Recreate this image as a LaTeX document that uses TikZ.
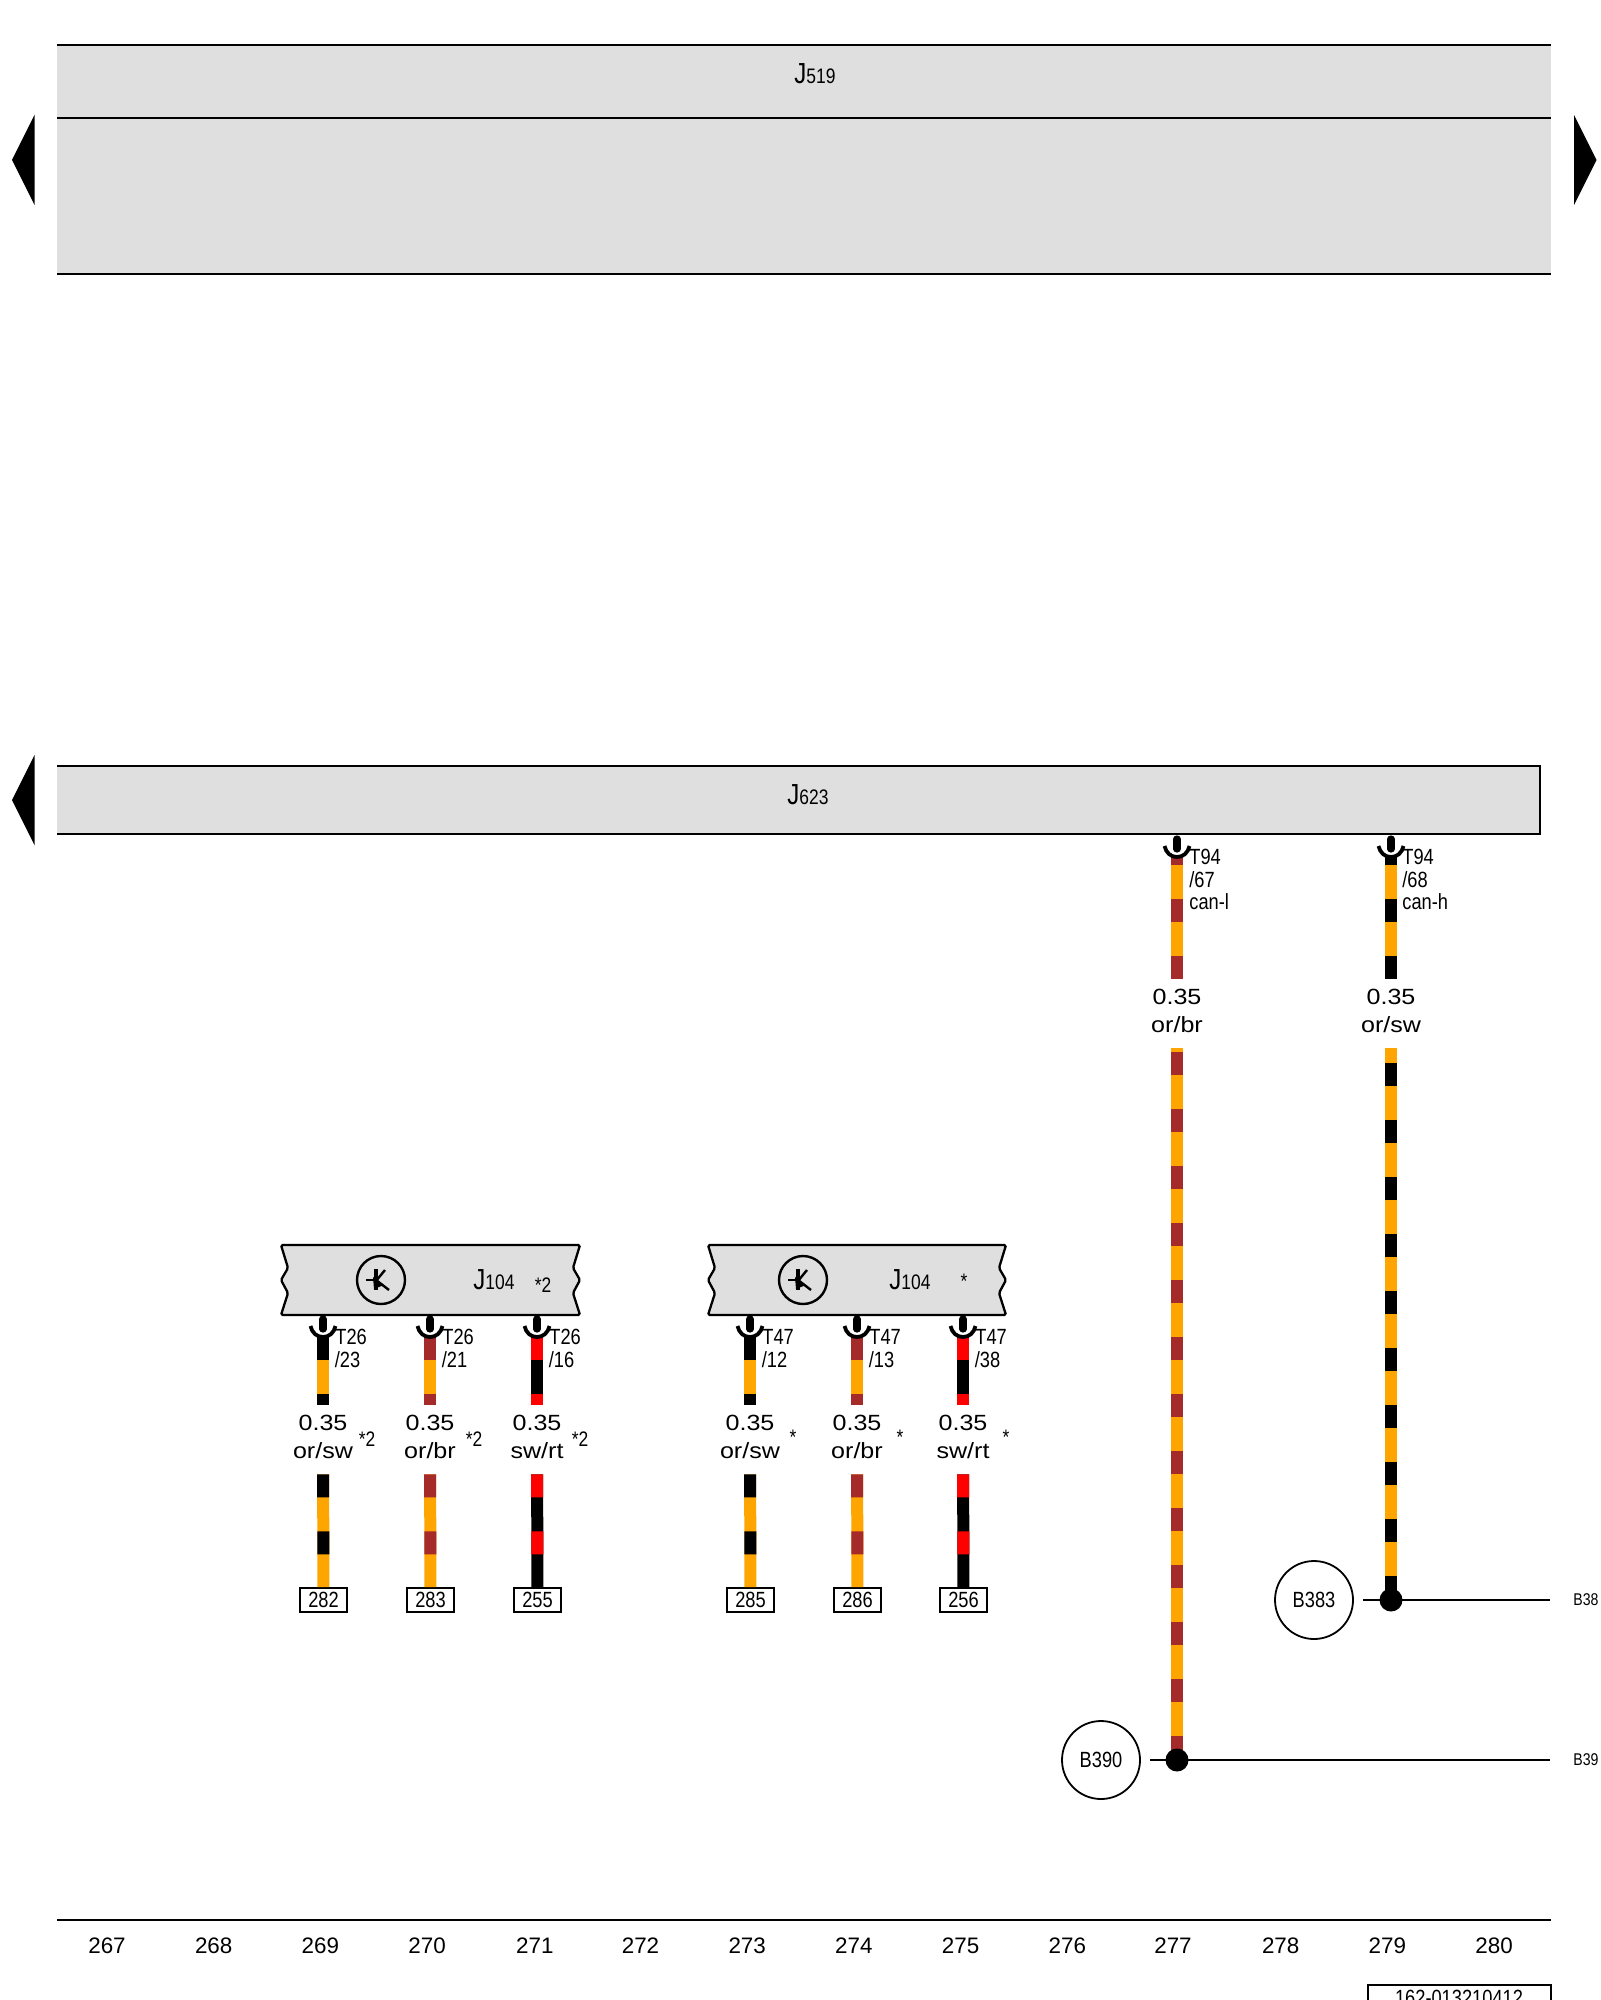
\documentclass[tikz,border=0pt]{standalone}
\usepackage{fontspec}
\usepackage{tikz}
\setmainfont{Liberation Sans}
\newfontfamily\narrowfont[FakeStretch=0.83]{Liberation Sans}
\newfontfamily\widefont[FakeStretch=1.14]{Liberation Sans}
\definecolor{boxgray}{RGB}{223,223,223}
\definecolor{wireor}{RGB}{255,165,0}
\definecolor{wirebr}{RGB}{165,42,42}
\definecolor{wirert}{RGB}{255,0,0}
\newcommand{\jname}[1]{{\fontsize{14.5}{14}\selectfont J}#1}
\tikzset{
  pinlabel/.style={anchor=west, inner sep=0pt, font=\narrowfont\fontsize{11}{12}\selectfont},
  starlabel/.style={inner sep=0pt, font=\narrowfont\fontsize{10.5}{12}\selectfont},
  columnlabel/.style={inner sep=0pt, font=\fontsize{11.2}{13}\selectfont},
  wirelabel/.style={inner sep=0pt, minimum width=12pt, minimum height=34.5pt, align=center,
    text height=26.5pt, text depth=8pt, font=\widefont\fontsize{11}{14}\selectfont},
  endbox/.style={draw, line width=0.9pt, fill=white, inner sep=0pt, minimum width=23.5pt,
    minimum height=12pt, font=\narrowfont\fontsize{11}{12}\selectfont},
  ringnode/.style={draw, circle, line width=0.9pt, inner sep=0pt, minimum size=39pt,
    font=\narrowfont\fontsize{11}{12}\selectfont},
  joindot/.style={circle, fill=black, inner sep=0pt, minimum size=11.5pt},
  busline/.style={line width=1.15pt},
  wire/.style n args={3}{line width=6pt, draw=#1,
    postaction={draw=#2, dash pattern=on 11.5pt off 17pt, dash phase=#3}},
  orsw/.style={wire={wireor}{black}{#1}}, orsw/.default=0pt,
  orbr/.style={wire={wireor}{wirebr}{#1}}, orbr/.default=0pt,
  swrt/.style={wire={black}{wirert}{#1}}, swrt/.default=0pt,
  pinmark/.pic={
    \draw[line width=3.6pt, line cap=round] (0,-18) -- (0,-8);
    \draw[line width=1.9pt] (-12.5,-11) .. controls (-11,-4) and (-6,0) .. (0,0)
      .. controls (6,0) and (11,-4) .. (12.5,-11);
  },
  fetmark/.pic={
    \draw[line width=1.2pt] (0,0) circle (24);
    \draw[line width=1.3pt] (-15,0) -- (-3,0);
    \draw[line width=2pt] (-5.5,-11) -- (-5.5,10);
    \draw[line width=1.2pt] (-5,1) -- (4,-10);
    \draw[line width=1.2pt] (-5,0) -- (8,10);
    \fill (-8,-3) -- (3,5) -- (-7,9) -- cycle;
  }
}
\begin{document}
\begin{tikzpicture}[x=0.5pt,y=-0.5pt]
\useasboundingbox (0,0) rectangle (1600,2000);
\clip (0,0) rectangle (1600,2000);
\fill[white] (0,0) rectangle (1600,2000);
\fill[boxgray] (57,45) rectangle (1551,274);
\draw[busline] (57,45) -- (1551,45);
\draw[busline] (57,118) -- (1551,118);
\draw[busline] (57,274) -- (1551,274);
\fill (34.5,115) -- (12,160) -- (34.5,205) -- cycle;
\fill (1574,115) -- (1596.5,160) -- (1574,205) -- cycle;
\node[starlabel] (j519) at (815,74) {\jname{519}};
\fill[boxgray] (57,766) rectangle (1540,834);
\draw[busline] (57,766) -- (1540,766) -- (1540,834) -- (57,834);
\fill (34.5,755) -- (12,800) -- (34.5,845) -- cycle;
\node[starlabel] (j623) at (808,795) {\jname{623}};
\filldraw[fill=boxgray, busline, rounded corners=0.8pt] (281,1245) -- (580,1245) -- (573,1268) -- (580,1280) -- (573,1293) -- (580,1315)
  -- (281,1315) -- (288,1293) -- (281,1280) -- (288,1268) -- cycle;
\filldraw[fill=boxgray, busline, rounded corners=0.8pt] (708,1245) -- (1006,1245) -- (999,1268) -- (1006,1280) -- (999,1293) -- (1006,1315)
  -- (708,1315) -- (715,1293) -- (708,1280) -- (715,1268) -- cycle;
\pic at (381,1280) {fetmark};
\pic at (803,1280) {fetmark};
\node[starlabel] (j104a) at (494,1280) {\jname{104}};
\node[starlabel] (j104b) at (910,1280) {\jname{104}};
\node[starlabel] (j104astar) at (543,1285) {*2};
\node[starlabel] (j104bstar) at (964,1281.5) {*};
\coordinate (p1) at (323,1337);
\coordinate (p2) at (430,1337);
\coordinate (p3) at (537,1337);
\coordinate (p4) at (750,1337);
\coordinate (p5) at (857,1337);
\coordinate (p6) at (963,1337);
\coordinate (p7) at (1177,857);
\coordinate (p8) at (1391,857);
\node[wirelabel] (w1) at (323,1439.5) {0.35\\or/sw};
\node[wirelabel] (w2) at (430,1439.5) {0.35\\or/br};
\node[wirelabel] (w3) at (537,1439.5) {0.35\\sw/rt};
\node[wirelabel] (w4) at (750,1439.5) {0.35\\or/sw};
\node[wirelabel] (w5) at (857,1439.5) {0.35\\or/br};
\node[wirelabel] (w6) at (963,1439.5) {0.35\\sw/rt};
\node[wirelabel] (w7) at (1177,1013.5) {0.35\\or/br};
\node[wirelabel] (w8) at (1391,1013.5) {0.35\\or/sw};
\node[endbox] (e282) at (323.5,1600) {282};
\node[endbox] (e283) at (430.5,1600) {283};
\node[endbox] (e255) at (537.5,1600) {255};
\node[endbox] (e285) at (750.5,1600) {285};
\node[endbox] (e286) at (857.5,1600) {286};
\node[endbox] (e256) at (963.5,1600) {256};
\coordinate (c390) at (1177,1760);
\coordinate (c383) at (1391,1600);
\node[ringnode] (b390) at (1101,1760) {B390};
\node[ringnode] (b383) at (1314,1600) {B383};
\coordinate (r390) at (1550,1760);
\coordinate (r383) at (1550,1600);
\draw[orsw] (p1) -- (w1);
\draw[orbr] (p2) -- (w2);
\draw[swrt] (p3) -- (w3);
\draw[orsw] (p4) -- (w4);
\draw[orbr] (p5) -- (w5);
\draw[swrt] (p6) -- (w6);
\draw[orsw] (w1) -- (e282);
\draw[orbr] (w2) -- (e283);
\draw[swrt] (w3) -- (e255);
\draw[orsw] (w4) -- (e285);
\draw[orbr] (w5) -- (e286);
\draw[swrt] (w6) -- (e256);
\draw[orbr=7.5pt] (p7) -- (w7);
\draw[orsw=7.5pt] (p8) -- (w8);
\draw[orbr=26.5pt] (w7) -- (c390);
\draw[orsw=21pt] (w8) -- (c383);
\draw[busline, shorten <=4.5pt] (b390) -- (r390);
\draw[busline, shorten <=4.5pt] (b383) -- (r383);
\node[joindot] (d390) at (c390) {};
\node[joindot] (d383) at (c383) {};
\pic at (p1) {pinmark};
\pic at (p2) {pinmark};
\pic at (p3) {pinmark};
\pic at (p4) {pinmark};
\pic at (p5) {pinmark};
\pic at (p6) {pinmark};
\pic at (p7) {pinmark};
\pic at (p8) {pinmark};
\node[pinlabel] (t1) at (335,1337) {T26};
\node[pinlabel] (t1b) at (334.5,1360) {/23};
\node[pinlabel] (t2) at (442,1337) {T26};
\node[pinlabel] (t2b) at (441.5,1360) {/21};
\node[pinlabel] (t3) at (549,1337) {T26};
\node[pinlabel] (t3b) at (548.5,1360) {/16};
\node[pinlabel] (t4) at (762,1337) {T47};
\node[pinlabel] (t4b) at (761.5,1360) {/12};
\node[pinlabel] (t5) at (869,1337) {T47};
\node[pinlabel] (t5b) at (868.5,1360) {/13};
\node[pinlabel] (t6) at (975,1337) {T47};
\node[pinlabel] (t6b) at (974.5,1360) {/38};
\node[pinlabel] (t7) at (1189,857) {T94};
\node[pinlabel] (t7b) at (1189,880) {/67};
\node[pinlabel] (t7c) at (1189,902) {can-l};
\node[pinlabel] (t8) at (1402,857) {T94};
\node[pinlabel] (t8b) at (1402,880) {/68};
\node[pinlabel] (t8c) at (1402,902) {can-h};
\node[starlabel] (s1) at (367,1439) {*2};
\node[starlabel] (s2) at (474,1439) {*2};
\node[starlabel] (s3) at (580,1439) {*2};
\node[starlabel] (s4) at (793,1437.5) {*};
\node[starlabel] (s5) at (900,1437.5) {*};
\node[starlabel] (s6) at (1006,1437.5) {*};
\node[pinlabel, font=\narrowfont\fontsize{8.5}{10}\selectfont] (n383) at (1573,1600) {B38};
\node[pinlabel, font=\narrowfont\fontsize{8.5}{10}\selectfont] (n390) at (1573,1760) {B39};
\coordinate (a0) at (57,1920);
\coordinate (a1) at (1551,1920);
\draw[busline] (a0) -- (a1);
\node[columnlabel] (c267) at (107,1946) {267};
\node[columnlabel] (c268) at (213.7,1946) {268};
\node[columnlabel] (c269) at (320.4,1946) {269};
\node[columnlabel] (c270) at (427.1,1946) {270};
\node[columnlabel] (c271) at (534.8,1946) {271};
\node[columnlabel] (c272) at (640.5,1946) {272};
\node[columnlabel] (c273) at (747.2,1946) {273};
\node[columnlabel] (c274) at (853.9,1946) {274};
\node[columnlabel] (c275) at (960.6,1946) {275};
\node[columnlabel] (c276) at (1067.3,1946) {276};
\node[columnlabel] (c277) at (1173,1946) {277};
\node[columnlabel] (c278) at (1280.7,1946) {278};
\node[columnlabel] (c279) at (1387.4,1946) {279};
\node[columnlabel] (c280) at (1494.1,1946) {280};
\draw[busline] (1368,2010) -- (1368,1985) -- (1551,1985) -- (1551,2010);
\node[pinlabel, anchor=center] (code) at (1459,1998) {162-013210412};
\end{tikzpicture}
\end{document}
